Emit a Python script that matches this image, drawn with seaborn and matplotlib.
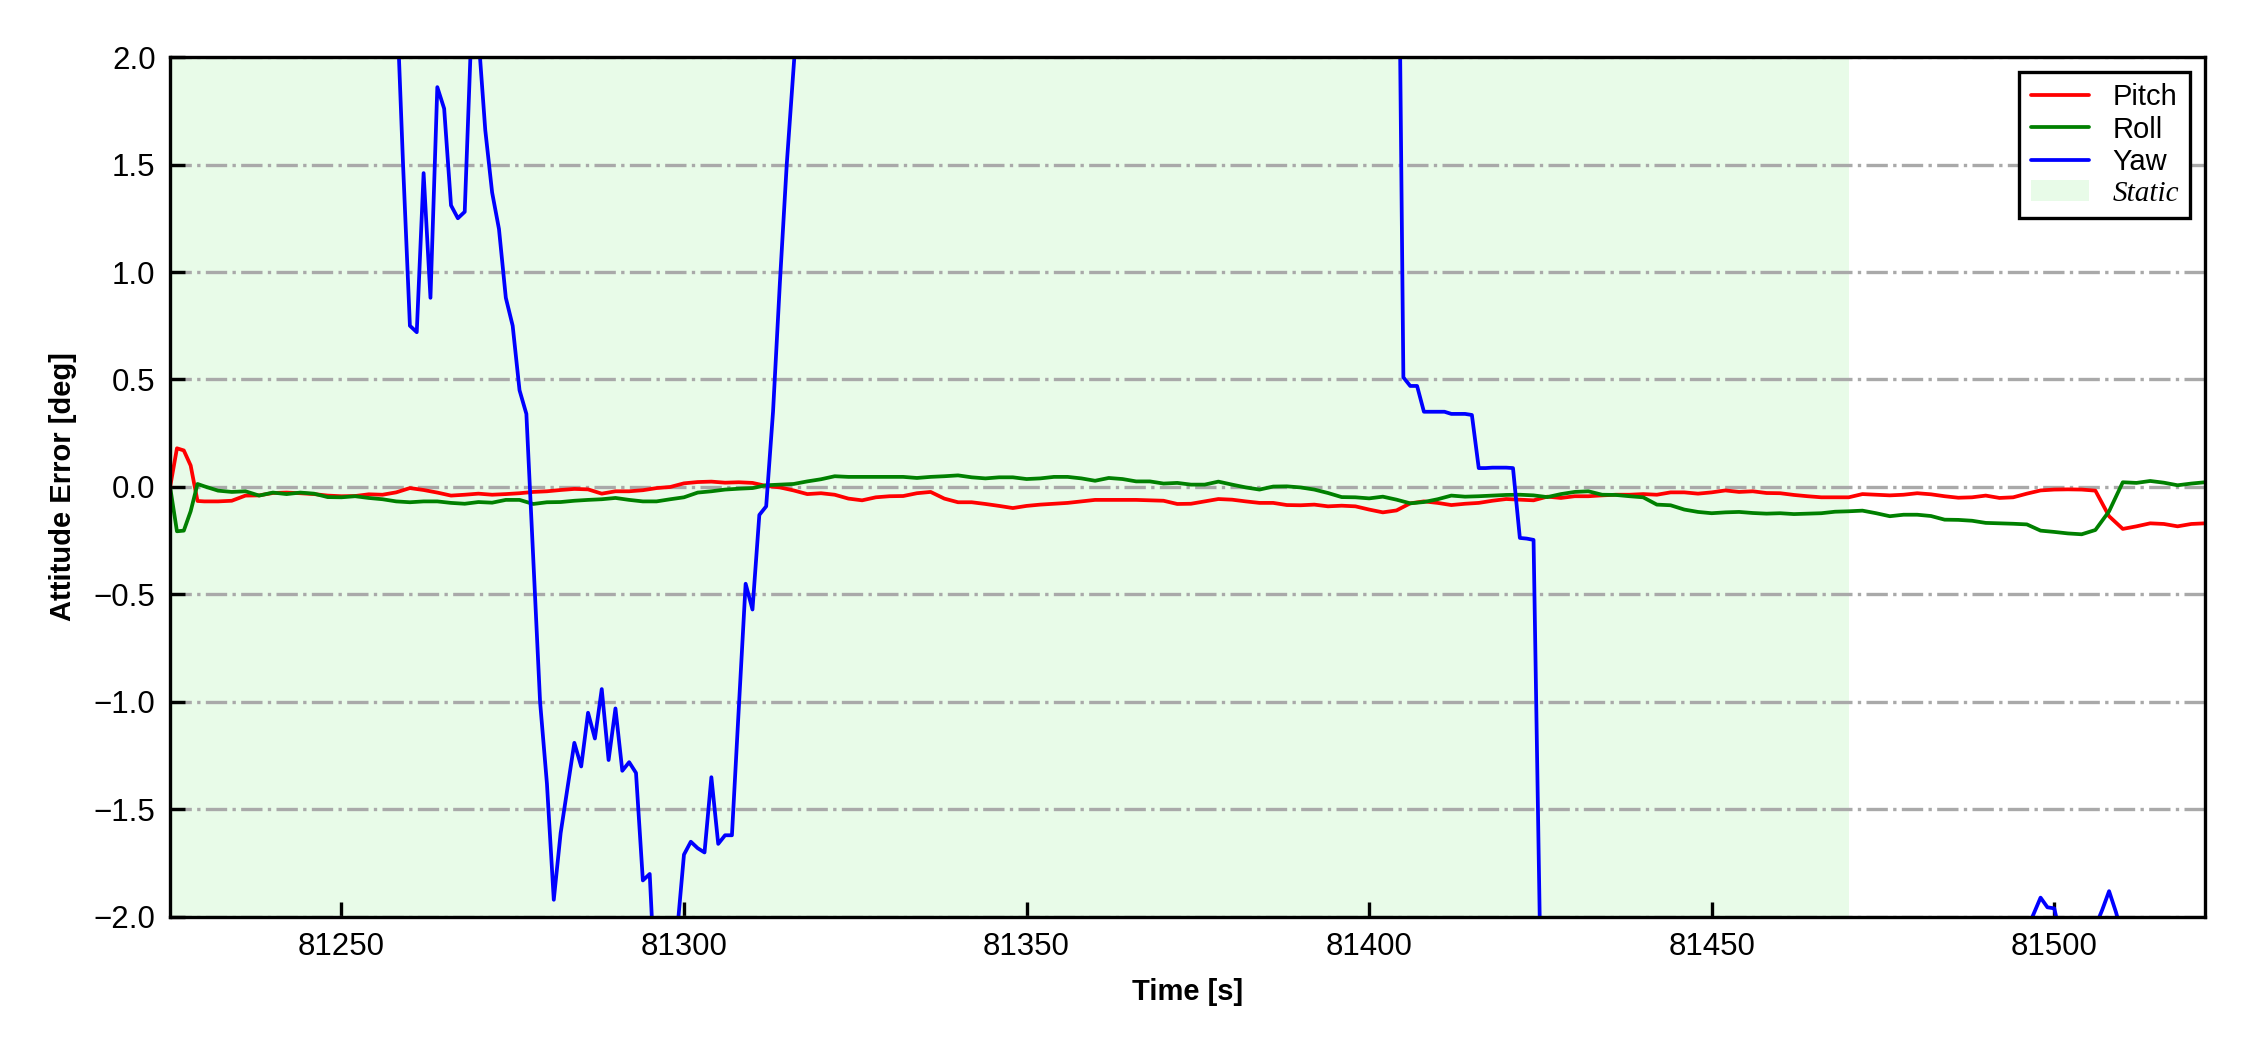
import matplotlib
matplotlib.use('Agg')
import matplotlib.pyplot as plt
import seaborn as sns
import pandas as pd

# pitch / roll sampled every second at the start, then every 2 s
att_time = [81225, 81226, 81227, 81228, 81229] + list(range(81230, 81523, 2))
pitch_err = [
    0.00, 0.18, 0.17, 0.10, -0.065, -0.067, -0.067, -0.064, -0.040, -0.039,
    -0.028, -0.026, -0.029, -0.033, -0.040, -0.043, -0.042, -0.034, -0.036, -0.025,
    -0.005, -0.014, -0.026, -0.040, -0.036, -0.031, -0.036, -0.033, -0.029, -0.023,
    -0.020, -0.014, -0.009, -0.011, -0.031, -0.020, -0.020, -0.015, -0.005, 0.000,
    0.017, 0.023, 0.025, 0.020, 0.022, 0.019, 0.005, -0.002, -0.016, -0.033,
    -0.029, -0.036, -0.054, -0.062, -0.048, -0.043, -0.042, -0.029, -0.023, -0.054,
    -0.071, -0.071, -0.079, -0.088, -0.098, -0.088, -0.082, -0.078, -0.074, -0.067,
    -0.060, -0.060, -0.060, -0.060, -0.062, -0.064, -0.079, -0.078, -0.067, -0.056,
    -0.059, -0.067, -0.074, -0.074, -0.084, -0.085, -0.082, -0.090, -0.087, -0.090,
    -0.105, -0.118, -0.109, -0.076, -0.067, -0.074, -0.084, -0.078, -0.074, -0.064,
    -0.056, -0.059, -0.062, -0.045, -0.051, -0.043, -0.043, -0.039, -0.036, -0.036,
    -0.033, -0.036, -0.025, -0.025, -0.031, -0.025, -0.016, -0.023, -0.020, -0.028,
    -0.029, -0.037, -0.043, -0.048, -0.048, -0.048, -0.033, -0.036, -0.039, -0.036,
    -0.029, -0.034, -0.043, -0.050, -0.048, -0.040, -0.051, -0.048, -0.031, -0.016,
    -0.012, -0.011, -0.012, -0.017, -0.136, -0.195, -0.183, -0.169, -0.172, -0.183,
    -0.172, -0.169,
]
roll_err = [
    0.000, -0.206, -0.203, -0.113, 0.014, 0.003, -0.017, -0.023, -0.020, -0.040,
    -0.026, -0.033, -0.026, -0.031, -0.047, -0.048, -0.043, -0.051, -0.057, -0.067,
    -0.071, -0.067, -0.067, -0.074, -0.078, -0.070, -0.073, -0.060, -0.060, -0.079,
    -0.071, -0.070, -0.064, -0.060, -0.057, -0.051, -0.060, -0.067, -0.067, -0.057,
    -0.048, -0.026, -0.020, -0.012, -0.008, -0.005, 0.008, 0.011, 0.014, 0.026,
    0.036, 0.050, 0.047, 0.047, 0.047, 0.047, 0.047, 0.042, 0.047, 0.050,
    0.054, 0.045, 0.040, 0.045, 0.045, 0.037, 0.040, 0.047, 0.047, 0.040,
    0.029, 0.042, 0.037, 0.026, 0.026, 0.016, 0.019, 0.011, 0.011, 0.025,
    0.011, -0.002, -0.012, 0.002, 0.003, -0.002, -0.012, -0.028, -0.047, -0.048,
    -0.053, -0.045, -0.059, -0.076, -0.070, -0.057, -0.040, -0.045, -0.043, -0.040,
    -0.037, -0.036, -0.039, -0.047, -0.033, -0.023, -0.020, -0.036, -0.037, -0.043,
    -0.048, -0.082, -0.085, -0.105, -0.116, -0.122, -0.118, -0.116, -0.121, -0.124,
    -0.122, -0.126, -0.124, -0.122, -0.115, -0.113, -0.110, -0.122, -0.136, -0.129,
    -0.129, -0.135, -0.152, -0.153, -0.157, -0.167, -0.169, -0.171, -0.174, -0.203,
    -0.209, -0.216, -0.220, -0.200, -0.113, 0.022, 0.019, 0.028, 0.020, 0.008,
    0.016, 0.022,
]

# yaw: 1 s samples where it is on screen, a few points where it is off the chart
yaw_time = ([81225] + list(range(81258, 81318)) + [81360] + list(range(81404, 81426))
            + [81460] + list(range(81496, 81511)) + [81522])
yaw_err = [
    3.0,
    2.33, 1.50, 0.75, 0.72, 1.46, 0.88, 1.86, 1.76, 1.31, 1.25,
    1.28, 2.15, 2.10, 1.66, 1.37, 1.20, 0.88, 0.75, 0.45, 0.34,
    -0.33, -1.00, -1.38, -1.92, -1.61, -1.40, -1.19, -1.30, -1.05, -1.17,
    -0.94, -1.27, -1.03, -1.32, -1.28, -1.33, -1.83, -1.80, -2.45, -2.80,
    -2.60, -2.07, -1.71, -1.65, -1.68, -1.70, -1.35, -1.66, -1.62, -1.62,
    -1.03, -0.45, -0.57, -0.13, -0.09, 0.35, 0.95, 1.50, 1.95, 2.40,
    6.0,
    3.7, 0.51, 0.47, 0.47, 0.35, 0.35, 0.35, 0.35, 0.34, 0.34, 0.34,
    0.335, 0.088, 0.088, 0.09, 0.09, 0.09, 0.088, -0.237, -0.24, -0.246, -2.2,
    -6.0,
    -2.06, -1.985, -1.91, -1.955, -1.96, -2.10, -2.8, -3.0, -2.9, -2.6,
    -2.045, -1.967, -1.88, -1.977, -2.09,
    -3.0,
]

static_span = (81225, 81470)
x_ticks = [81250, 81300, 81350, 81400, 81450, 81500]
y_ticks = [-2.0, -1.5, -1.0, -0.5, 0.0, 0.5, 1.0, 1.5, 2.0]

sns.set_style('ticks')
plt.rcParams['font.family'] = ['Liberation Sans', 'DejaVu Sans']
for k in ['text.color', 'axes.labelcolor', 'xtick.color', 'ytick.color', 'axes.edgecolor']:
    plt.rcParams[k] = 'black'

fig, ax = plt.subplots(figsize=(7.5, 3.5), dpi=300)
fig.subplots_adjust(left=0.0756, right=0.98, top=0.9457, bottom=0.1267)

att = pd.DataFrame({'time': att_time, 'Pitch': pitch_err, 'Roll': roll_err})
yaw = pd.DataFrame({'time': yaw_time, 'Yaw': yaw_err})

sns.lineplot(data=att, x='time', y='Pitch', color='red', lw=0.9, label='Pitch', ax=ax)
sns.lineplot(data=att, x='time', y='Roll', color='green', lw=0.9, label='Roll', ax=ax)
sns.lineplot(data=yaw, x='time', y='Yaw', color='blue', lw=0.9, label='Yaw', ax=ax)
ax.axvspan(*static_span, color='lightgreen', alpha=0.2, lw=0, zorder=0, label='Static')

ax.set_xlim(81225, 81522)
ax.set_ylim(-2, 2)
ax.set_xticks(x_ticks)
ax.set_yticks(y_ticks)
ax.ticklabel_format(axis='x', useOffset=False, style='plain')
ax.grid(axis='y', color='darkgray', ls='-.', lw=0.8)
ax.tick_params(direction='in', length=3.5, width=0.8, labelsize=7.5)
for s in ax.spines.values():
    s.set_linewidth(0.8)
    s.set_color('black')

ax.set_xlabel('Time [s]', fontsize=7, fontweight='bold')
ax.set_ylabel('Attitude Error [deg]', fontsize=7, fontweight='bold')

leg = ax.legend(loc='upper right', fontsize=7, fancybox=False, edgecolor='black',
                framealpha=1, labelspacing=0.15, handlelength=2.0)
leg.get_frame().set_linewidth(0.8)
static_txt = leg.get_texts()[3]
static_txt.set_fontfamily(['Liberation Serif', 'DejaVu Serif'])
static_txt.set_fontstyle('italic')

fig.savefig('out.png', dpi=300)
